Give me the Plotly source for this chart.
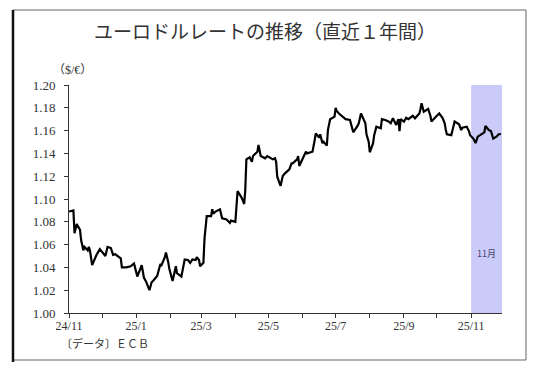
import plotly.graph_objects as go

# ---- data (ECB EUR/USD reference rate) ----
dates = [
    "2024-11-01", "2024-11-05", "2024-11-06", "2024-11-08", "2024-11-11", "2024-11-12",
    "2024-11-14", "2024-11-15", "2024-11-18", "2024-11-19", "2024-11-20", "2024-11-22",
    "2024-11-26", "2024-11-29", "2024-12-04", "2024-12-06", "2024-12-09", "2024-12-11",
    "2024-12-13", "2024-12-16", "2024-12-18", "2024-12-19", "2024-12-23", "2024-12-27",
    "2024-12-30", "2025-01-02", "2025-01-06", "2025-01-08", "2025-01-10", "2025-01-13",
    "2025-01-15", "2025-01-17", "2025-01-20", "2025-01-23", "2025-01-24", "2025-01-27",
    "2025-01-28", "2025-01-30", "2025-01-31", "2025-02-03", "2025-02-06", "2025-02-07",
    "2025-02-11", "2025-02-14", "2025-02-17", "2025-02-19", "2025-02-21", "2025-02-24",
    "2025-02-25", "2025-02-27", "2025-02-28", "2025-03-03", "2025-03-04", "2025-03-06",
    "2025-03-10", "2025-03-11", "2025-03-12", "2025-03-14", "2025-03-18", "2025-03-20",
    "2025-03-24", "2025-03-27", "2025-03-28", "2025-04-01", "2025-04-03", "2025-04-07",
    "2025-04-09", "2025-04-10", "2025-04-11", "2025-04-14", "2025-04-16", "2025-04-17",
    "2025-04-21", "2025-04-22", "2025-04-24", "2025-04-28", "2025-04-30", "2025-05-05",
    "2025-05-07", "2025-05-08", "2025-05-09", "2025-05-12", "2025-05-14", "2025-05-16",
    "2025-05-20", "2025-05-22", "2025-05-23", "2025-05-27", "2025-05-28", "2025-05-29",
    "2025-06-02", "2025-06-04", "2025-06-05", "2025-06-09", "2025-06-10", "2025-06-12",
    "2025-06-13", "2025-06-16", "2025-06-17", "2025-06-19", "2025-06-20", "2025-06-23",
    "2025-06-24", "2025-06-26", "2025-06-30", "2025-07-01", "2025-07-02", "2025-07-04",
    "2025-07-07", "2025-07-10", "2025-07-14", "2025-07-15", "2025-07-17", "2025-07-21",
    "2025-07-22", "2025-07-24", "2025-07-28", "2025-07-29", "2025-07-31", "2025-08-01",
    "2025-08-04", "2025-08-05", "2025-08-07", "2025-08-11", "2025-08-12", "2025-08-15",
    "2025-08-18", "2025-08-20", "2025-08-22", "2025-08-25", "2025-08-27", "2025-08-28",
    "2025-08-29", "2025-09-01", "2025-09-03", "2025-09-05", "2025-09-09", "2025-09-11",
    "2025-09-15", "2025-09-16", "2025-09-17", "2025-09-19", "2025-09-23", "2025-09-25",
    "2025-09-26", "2025-09-30", "2025-10-03", "2025-10-06", "2025-10-08", "2025-10-09",
    "2025-10-10", "2025-10-14", "2025-10-16", "2025-10-17", "2025-10-21", "2025-10-23",
    "2025-10-24", "2025-10-28", "2025-10-30", "2025-10-31", "2025-11-03", "2025-11-05",
    "2025-11-07", "2025-11-11", "2025-11-13", "2025-11-14", "2025-11-17", "2025-11-19",
    "2025-11-21", "2025-11-24", "2025-11-26", "2025-11-28",
]
rates = [
    1.089, 1.090, 1.070, 1.078, 1.073, 1.064,
    1.055, 1.058, 1.055, 1.058, 1.055, 1.042,
    1.051, 1.056, 1.050, 1.058, 1.057, 1.051,
    1.0515, 1.049, 1.048, 1.040, 1.040, 1.041,
    1.0435, 1.032, 1.042, 1.031, 1.0275, 1.020,
    1.027, 1.029, 1.0325, 1.043, 1.042, 1.049,
    1.053, 1.045, 1.039, 1.028, 1.041, 1.035,
    1.032, 1.047, 1.0465, 1.044, 1.047, 1.0465,
    1.049, 1.0465, 1.041, 1.044, 1.0655, 1.085,
    1.085, 1.091, 1.087, 1.089, 1.091, 1.083,
    1.082, 1.079, 1.081, 1.080, 1.107, 1.1006,
    1.0956, 1.108, 1.1348, 1.1366, 1.1327, 1.1377,
    1.1415, 1.1474, 1.1377, 1.1357, 1.1377, 1.1348,
    1.1357, 1.1327, 1.1196, 1.1114, 1.1202, 1.1225,
    1.126, 1.1313, 1.1313, 1.1348, 1.1377, 1.129,
    1.1372, 1.1415, 1.140, 1.1415, 1.1415, 1.1518,
    1.1576, 1.1538, 1.1568, 1.149, 1.1503, 1.1468,
    1.1605, 1.170, 1.1722, 1.180, 1.1772, 1.175,
    1.1722, 1.170, 1.1693, 1.165, 1.1585, 1.1643,
    1.1664, 1.175, 1.1664, 1.1568, 1.1503, 1.141,
    1.149, 1.156, 1.1634, 1.162, 1.170, 1.1693,
    1.168, 1.1664, 1.1708, 1.165, 1.170, 1.1596,
    1.170, 1.1678, 1.1713, 1.170, 1.173, 1.1708,
    1.175, 1.179, 1.184, 1.1766, 1.179, 1.173,
    1.168, 1.1722, 1.175, 1.1713, 1.1664, 1.1605,
    1.1568, 1.156, 1.1625, 1.168, 1.1655, 1.1605,
    1.1625, 1.1634, 1.1596, 1.156, 1.153, 1.149,
    1.1547, 1.1568, 1.1585, 1.164, 1.1605, 1.1596,
    1.153, 1.1547, 1.1568, 1.157,
]

tick_dates = ["2024-11-01", "2024-12-01", "2025-01-01", "2025-02-01", "2025-03-01",
              "2025-04-01", "2025-05-01", "2025-06-01", "2025-07-01", "2025-08-01",
              "2025-09-01", "2025-10-01", "2025-11-01"]
tick_labels = ["24/11", "", "25/1", "", "25/3", "", "25/5", "", "25/7", "", "25/9", "", "25/11"]

x_range = ["2024-11-01", "2025-11-29"]
y_range = [1.00, 1.20]
shade_start, shade_end = "2025-11-01", "2025-11-29"
shade_label, shade_label_date, shade_label_y = "11月", "2025-11-15", 1.0526

title_text = "ユーロドルレートの推移（直近１年間）"
unit_text = "（$/€）"
source_text = "〔データ〕ＥＣＢ"

# ---- figure ----
W, H = 540, 377
L, R, T, B = 69, 38, 85, 64
pw, ph = W - L - R, H - T - B


def px_x(p):
    return (p - L) / pw


def px_y(p):
    return (H - B - p) / ph


num_font = "Liberation Serif, 'Noto Sans CJK JP', serif"
jp_font = "'Noto Sans CJK JP', sans-serif"

fig = go.Figure()
fig.add_trace(go.Scatter(x=dates, y=rates, mode="lines",
                         line=dict(color="#000000", width=2.2),
                         hoverinfo="skip", showlegend=False))

fig.add_shape(type="rect", xref="x", yref="paper", x0=shade_start, x1=shade_end,
              y0=0, y1=1, fillcolor="#CBCBFA", line=dict(width=0), layer="below")

fig.add_annotation(x=shade_label_date, y=shade_label_y, xref="x", yref="y",
                   xanchor="center", yanchor="middle",
                   text=shade_label, showarrow=False,
                   font=dict(family=jp_font, size=9, color="#444466"))

# outer frame
fig.add_shape(type="rect", xref="paper", yref="paper",
              x0=px_x(13), x1=px_x(526), y0=px_y(360), y1=px_y(10),
              line=dict(color="#666666", width=1))
fig.add_shape(type="line", xref="paper", yref="paper",
              x0=px_x(13), x1=px_x(13), y0=px_y(362), y1=px_y(10),
              line=dict(color="#111111", width=2.5))

fig.add_annotation(xref="paper", yref="paper", x=px_x(265), y=px_y(31),
                   xanchor="center", yanchor="middle",
                   text=title_text, showarrow=False,
                   font=dict(family=jp_font, size=19, color="#333333"))
fig.add_annotation(xref="paper", yref="paper", x=px_x(72), y=px_y(70),
                   xanchor="center", yanchor="middle",
                   text=unit_text, showarrow=False,
                   font=dict(family=num_font, size=12, color="#333333"))
fig.add_annotation(xref="paper", yref="paper", x=px_x(60), y=px_y(343),
                   xanchor="left", yanchor="middle", text=source_text, showarrow=False,
                   borderpad=0,
                   font=dict(family=jp_font, size=11, color="#333333"))

fig.update_layout(
    width=W, height=H,
    margin=dict(l=L, r=R, t=T, b=B, pad=0),
    paper_bgcolor="white", plot_bgcolor="white",
    xaxis=dict(type="date", range=x_range, tickvals=tick_dates, ticktext=tick_labels,
               ticks="outside", ticklen=4, tickcolor="#333333", showgrid=False,
               zeroline=False, showline=True, linecolor="#333333", linewidth=1,
               ticklabelstandoff=-2,
               tickfont=dict(family=num_font, size=12, color="#333333")),
    yaxis=dict(range=y_range, dtick=0.02, tick0=1.0, tickformat=".2f",
               ticks="outside", ticklen=4, tickcolor="#333333", showgrid=False,
               zeroline=False, showline=True, linecolor="#333333", linewidth=1,
               ticklabelstandoff=6,
               tickfont=dict(family=num_font, size=13, color="#333333")),
)

fig.write_html("out.html", config={"displayModeBar": False},
               post_script="document.body.style.margin='0px';")
